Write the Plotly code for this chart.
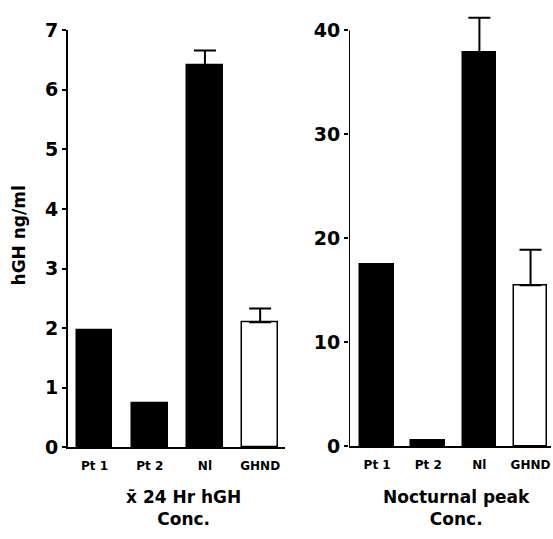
import plotly.graph_objects as go

# ---- data ----
categories = ["Pt 1", "Pt 2", "Nl", "GHND"]
mean24_values = [1.97, 0.74, 6.41, 2.10]
mean24_errors = [0, 0, 0.25, 0.23]
peak_values = [17.5, 0.6, 37.9, 15.5]
peak_errors = [0, 0, 3.3, 3.4]
bar_colors = ["black", "black", "black", "white"]
left_yticks = [0, 1, 2, 3, 4, 5, 6, 7]
right_yticks = [0, 10, 20, 30, 40]

W, H = 553, 539
FONT = "DejaVu Sans, Arial, sans-serif"

def px_x(p):
    return p / W

def px_y(p):
    return 1 - p / H

xpos = list(range(len(categories)))

fig = go.Figure()

fig.add_trace(go.Bar(
    x=xpos, y=mean24_values, width=0.65,
    marker=dict(color=bar_colors, line=dict(color="black", width=1.5)),
    error_y=dict(type="data", symmetric=False, array=mean24_errors,
                 arrayminus=[0] * 4, color="black", thickness=2, width=11),
    xaxis="x", yaxis="y", showlegend=False,
))
fig.add_trace(go.Bar(
    x=xpos, y=peak_values, width=0.66,
    marker=dict(color=bar_colors, line=dict(color="black", width=1.5)),
    error_y=dict(type="data", symmetric=False, array=peak_errors,
                 arrayminus=[0] * 4, color="black", thickness=2, width=11),
    xaxis="x2", yaxis="y2", showlegend=False,
))

common_x = dict(showline=True, linecolor="black", linewidth=2, showgrid=False,
                zeroline=False, ticks="outside", ticklen=6, tickcolor="rgba(0,0,0,0)",
                tickvals=xpos, ticktext=categories,
                tickfont=dict(family=FONT, size=12, color="black", weight="bold"))
common_y = dict(linecolor="black", linewidth=2, showgrid=False,
                zeroline=False, ticks="outside", ticklen=4, tickwidth=2,
                tickcolor="black",
                tickfont=dict(family=FONT, size=19, color="black", weight="bold"))

# left: 0 at 455px, 7 at 20px
# right: 0 at 454px, 40 at 20px; extended to 41.6 so the error cap shows
r_top_val = 41.6
r_pxper = (454 - 20) / 40.0
r_top_px = 20 - (r_top_val - 40) * r_pxper
L_X0 = -0.48
R_X0 = -0.55

fig.update_layout(
    width=W, height=H,
    margin=dict(l=0, r=0, t=0, b=0),
    paper_bgcolor="white", plot_bgcolor="white",
    bargap=0,
    xaxis=dict(domain=[px_x(68), px_x(285)], range=[L_X0, 3.45], anchor="y", **common_x),
    yaxis=dict(range=[0, 7], tickvals=left_yticks, anchor="x", showline=True,
               domain=[px_y(455), px_y(20)], **common_y),
    xaxis2=dict(domain=[px_x(349), px_x(551)], range=[R_X0, 3.4], anchor="y2", **common_x),
    yaxis2=dict(range=[0, r_top_val], tickvals=right_yticks, anchor="x2", showline=False,
                domain=[px_y(454), px_y(r_top_px)], **common_y),
)

# right y axis line only from 0 to 40
fig.add_shape(type="line", xref="x2", yref="y2", x0=R_X0, x1=R_X0, y0=0, y1=right_yticks[-1],
              line=dict(color="black", width=2), layer="above")

tfont = dict(family=FONT, size=17, color="black", weight="bold")
fig.add_annotation(text="x\u0304 24 Hr hGH<br>Conc.", x=px_x(183), y=px_y(518),
                   xref="paper", yref="paper", xanchor="center", yanchor="middle",
                   showarrow=False, font=tfont)
fig.add_annotation(text="Nocturnal peak<br>Conc.", x=px_x(456), y=px_y(518),
                   xref="paper", yref="paper", xanchor="center", yanchor="middle",
                   showarrow=False, font=tfont)

fig.add_annotation(text="hGH ng/ml", x=px_x(19), y=px_y(234), xref="paper", yref="paper",
                   xanchor="center", yanchor="middle", textangle=-90, showarrow=False,
                   font=dict(family=FONT, size=17, color="black", weight="bold"))

fig.write_html("out.html")
